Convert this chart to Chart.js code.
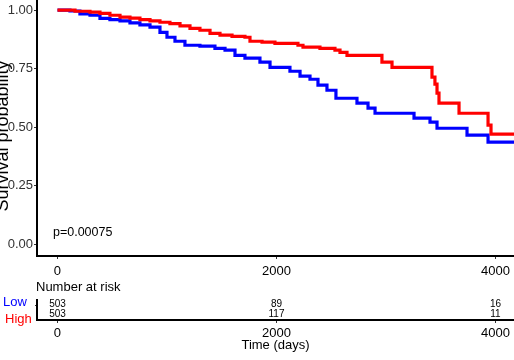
<!DOCTYPE html>
<html>
<head>
<meta charset="utf-8">
<script src="https://cdn.jsdelivr.net/npm/chart.js@4.4.1/dist/chart.umd.min.js"></script>
<style>
  html, body { margin: 0; padding: 0; background: #fff; }
  body { width: 514px; height: 360px; overflow: hidden; position: relative; font-family: "Liberation Sans", Arial, sans-serif; }
  #main { position: absolute; left: 0; top: 0; }
  #risk { position: absolute; left: 0; top: 290px; }
  .lbl { position: absolute; white-space: nowrap; line-height: 1; }
  #ytitle { left: -98px; top: 127px; width: 200px; height: 18px; font-size: 18px; line-height: 18px; text-align: center; transform: rotate(-90deg); }
</style>
</head>
<body>
<canvas id="main" width="514" height="285"></canvas>
<canvas id="risk" width="514" height="70"></canvas>
<div class="lbl" id="ytitle">Survival probability</div>
<div class="lbl" style="left:36px;top:280px;font-size:13px;">Number at risk</div>
<div class="lbl" style="left:3px;top:295px;font-size:13px;color:#0000ff;">Low</div>
<div class="lbl" style="left:5px;top:312px;font-size:13px;color:#ff0000;">High</div>
<script>
const FONT = '"Liberation Sans", Arial, sans-serif';

// Kaplan-Meier curves (time in days, survival)
const highTimes = [0, 160, 297, 388, 479, 571, 662, 753, 845, 936, 1027, 1119, 1210, 1301, 1393, 1484, 1594, 1712, 1758, 1868, 1986, 2196, 2242, 2397, 2534, 2580, 2644, 2963, 3055, 3420, 3447, 3466, 3484, 3667, 3932, 3959, 4170];
const highSurv  = [1.0, 0.995, 0.991, 0.986, 0.978, 0.970, 0.966, 0.959, 0.954, 0.948, 0.942, 0.933, 0.922, 0.914, 0.901, 0.893, 0.888, 0.884, 0.867, 0.863, 0.858, 0.850, 0.842, 0.837, 0.829, 0.820, 0.807, 0.778, 0.756, 0.714, 0.684, 0.646, 0.603, 0.560, 0.509, 0.471, 0.471];

const lowTimes = [0, 114, 205, 297, 388, 479, 571, 662, 753, 845, 936, 1000, 1073, 1164, 1301, 1438, 1530, 1621, 1712, 1849, 1941, 2123, 2215, 2306, 2379, 2461, 2543, 2735, 2836, 2900, 3256, 3402, 3466, 3740, 3932, 4170];
const lowSurv  = [1.0, 0.996, 0.984, 0.978, 0.965, 0.959, 0.954, 0.945, 0.937, 0.927, 0.905, 0.884, 0.867, 0.850, 0.846, 0.837, 0.829, 0.807, 0.795, 0.778, 0.756, 0.739, 0.718, 0.705, 0.680, 0.658, 0.624, 0.603, 0.582, 0.560, 0.539, 0.522, 0.496, 0.467, 0.437, 0.437];

const xTicks = [0, 2000, 4000];
const yTicks = [0, 0.25, 0.5, 0.75, 1.0];
const pValue = 'p=0.00075';

// number at risk table
const riskGroups = ['Low', 'High'];
const riskTimes = [0, 2000, 4000];
const riskLow = [503, 89, 16];
const riskHigh = [503, 117, 11];

const X_MIN = -187, X_MAX = 4169;

function pts(t, s) {
  return t.map((v, i) => ({ x: v, y: s[i] }));
}

const pPlugin = {
  id: 'pval',
  afterDraw(chart) {
    const ctx = chart.ctx;
    ctx.save();
    ctx.font = '12.5px ' + FONT;
    ctx.fillStyle = '#000';
    ctx.textBaseline = 'middle';
    ctx.textAlign = 'left';
    ctx.fillText(pValue, chart.scales.x.getPixelForValue(-41), chart.scales.y.getPixelForValue(0.049));
    ctx.restore();
  }
};

new Chart(document.getElementById('main'), {
  type: 'line',
  data: {
    datasets: [
      { label: 'High', data: pts(highTimes, highSurv), borderColor: '#ff0000', stepped: 'before' },
      { label: 'Low', data: pts(lowTimes, lowSurv), borderColor: '#0000ff', stepped: 'before' }
    ]
  },
  options: {
    animation: false,
    responsive: false,
    layout: { padding: 0 },
    elements: { point: { radius: 0 }, line: { borderWidth: 3.2, fill: false } },
    plugins: { legend: { display: false }, tooltip: { enabled: false } },
    scales: {
      x: {
        type: 'linear', min: X_MIN, max: X_MAX,
        afterBuildTicks: s => { s.ticks = xTicks.map(v => ({ value: v })); },
        afterFit: s => { s.height = 29; s.paddingLeft = 0; s.paddingRight = 0; },
        grid: { drawOnChartArea: false, tickLength: 3, color: '#333' },
        border: { color: '#000', width: 2 },
        ticks: { color: '#000', font: { family: FONT, size: 13 }, padding: 5, maxRotation: 0, autoSkip: false, callback: v => String(v) }
      },
      y: {
        type: 'linear', min: -0.049, max: 1.043,
        afterBuildTicks: s => { s.ticks = yTicks.map(v => ({ value: v })); },
        afterFit: s => { s.width = 37; s.paddingTop = 0; s.paddingBottom = 0; },
        grid: { drawOnChartArea: false, tickLength: 3, color: '#333' },
        border: { color: '#000', width: 2 },
        ticks: { color: '#333', font: { family: FONT, size: 13 }, padding: 1, callback: v => v.toFixed(2) }
      }
    }
  },
  plugins: [pPlugin]
});

const riskPlugin = {
  id: 'riskNumbers',
  afterDraw(chart) {
    const ctx = chart.ctx, xs = chart.scales.x, ys = chart.scales.y;
    ctx.save();
    ctx.font = '10px ' + FONT;
    ctx.fillStyle = '#000';
    ctx.textAlign = 'center';
    ctx.textBaseline = 'middle';
    riskTimes.forEach((t, i) => {
      ctx.fillText(String(riskLow[i]), xs.getPixelForValue(t), ys.getPixelForValue(0) - 1);
      ctx.fillText(String(riskHigh[i]), xs.getPixelForValue(t), ys.getPixelForValue(1) - 1);
    });
    ctx.restore();
  }
};

new Chart(document.getElementById('risk'), {
  type: 'line',
  data: { datasets: [] },
  options: {
    animation: false,
    responsive: false,
    layout: { padding: { top: 10, left: 0, right: 0, bottom: 0 } },
    plugins: { legend: { display: false }, tooltip: { enabled: false } },
    scales: {
      x: {
        type: 'linear', min: X_MIN, max: X_MAX,
        afterBuildTicks: s => { s.ticks = riskTimes.map(v => ({ value: v })); },
        afterFit: s => { s.height = 40; s.paddingLeft = 0; s.paddingRight = 0; },
        grid: { drawOnChartArea: false, tickLength: 3, color: '#333' },
        border: { color: '#000', width: 2 },
        ticks: { color: '#000', font: { family: FONT, size: 13 }, padding: 3, maxRotation: 0, autoSkip: false, callback: v => String(v) },
        title: { display: true, text: 'Time (days)', color: '#000', font: { family: FONT, size: 13 }, padding: { top: 0, bottom: 7 } }
      },
      y: {
        type: 'category', labels: riskGroups, offset: true,
        afterFit: s => { s.width = 37; s.paddingTop = 0; s.paddingBottom = 0; },
        grid: { drawOnChartArea: false, tickLength: 2, color: '#333' },
        border: { color: '#000', width: 2 },
        ticks: { callback: () => '' }
      }
    }
  },
  plugins: [riskPlugin]
});
</script>
</body>
</html>
